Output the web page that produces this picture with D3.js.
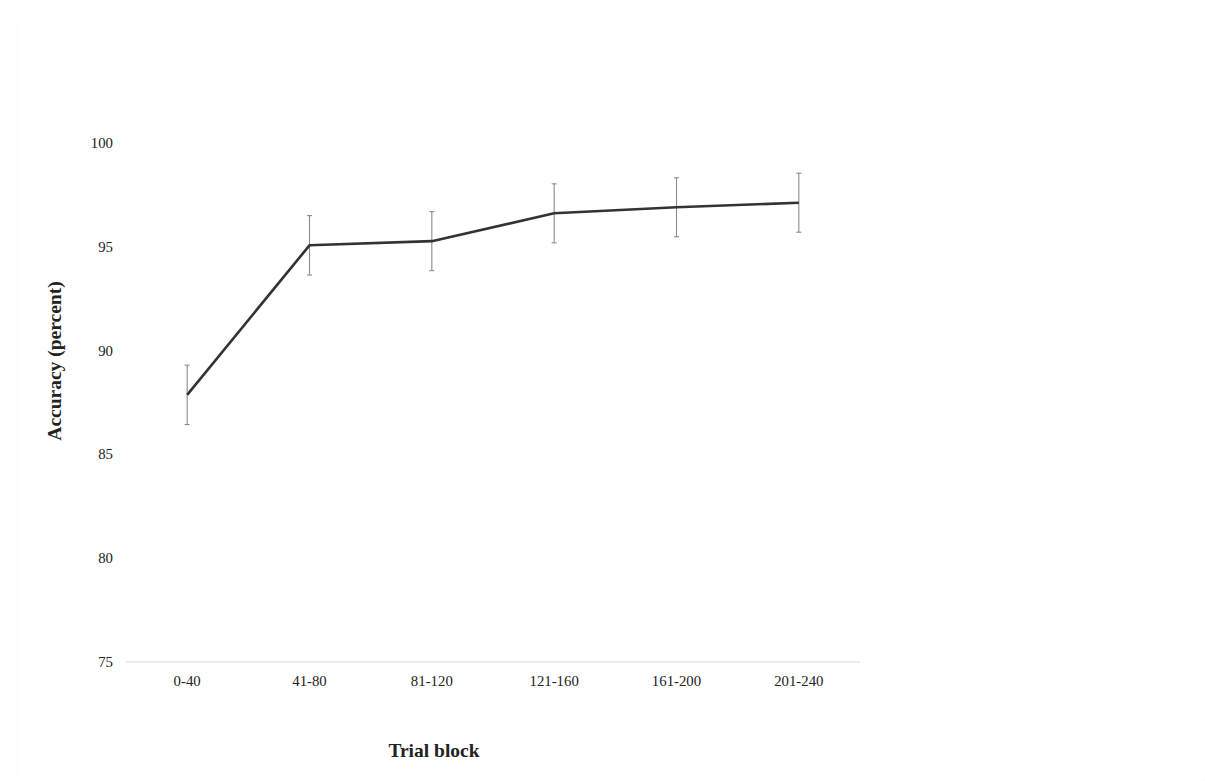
<!DOCTYPE html>
<html>
<head>
<meta charset="utf-8">
<script src="https://cdn.jsdelivr.net/npm/d3@7"></script>
<style>
  html, body { margin: 0; padding: 0; background: #fff; }
  svg { display: block; }
</style>
</head>
<body>
<svg id="chart" width="1205" height="781"></svg>
<script>
const categories = ["0-40", "41-80", "81-120", "121-160", "161-200", "201-240"];
const accuracy = [87.86, 95.06, 95.26, 96.6, 96.89, 97.11];
const errors = [1.43, 1.43, 1.42, 1.42, 1.42, 1.42];
const yTicks = [75, 80, 85, 90, 95, 100];
const xTitle = "Trial block";
const yTitle = "Accuracy (percent)";

const svg = d3.select("#chart");
const font = "'Liberation Serif', 'Times New Roman', serif";

// very faint page frame
svg.append("rect").attr("x", 18).attr("y", 19).attr("width", 1187).attr("height", 762)
  .attr("fill", "none").attr("stroke", "#fbfbfb");

const x = d3.scaleBand().domain(categories).range([126, 860]);
const y = d3.scaleLinear().domain([75, 100]).range([662, 142.7]);

// x axis line
svg.append("line").attr("x1", x.range()[0]).attr("x2", x.range()[1])
  .attr("y1", y(75)).attr("y2", y(75)).attr("stroke", "#d9d9d9").attr("stroke-width", 1.2);

// y tick labels
svg.append("g").selectAll("text").data(yTicks).join("text")
  .attr("x", 113).attr("y", d => y(d)).attr("dy", "0.35em")
  .attr("text-anchor", "end").attr("font-family", font).attr("font-size", 14.8)
  .attr("fill", "#222").text(d => d);

// x tick labels
svg.append("g").selectAll("text").data(categories).join("text")
  .attr("x", d => x(d) + x.bandwidth() / 2).attr("y", y(75) + 19).attr("dy", "0.35em")
  .attr("text-anchor", "middle").attr("font-family", font).attr("font-size", 14.8)
  .attr("fill", "#222").text(d => d);

const cx = (d, i) => x(categories[i]) + x.bandwidth() / 2;

// error bars
const eb = svg.append("g").attr("stroke", "#8a8a8a").attr("stroke-width", 1.1);
accuracy.forEach((v, i) => {
  const px = cx(null, i);
  const top = y(v + errors[i]), bot = y(v - errors[i]);
  eb.append("line").attr("x1", px).attr("x2", px).attr("y1", top).attr("y2", bot);
  eb.append("line").attr("x1", px - 2.5).attr("x2", px + 2.5).attr("y1", top).attr("y2", top);
  eb.append("line").attr("x1", px - 2.5).attr("x2", px + 2.5).attr("y1", bot).attr("y2", bot);
});

// line
const line = d3.line().x((d, i) => cx(d, i)).y(d => y(d));
svg.append("path").datum(accuracy).attr("d", line)
  .attr("fill", "none").attr("stroke", "#333").attr("stroke-width", 2.6)
  .attr("stroke-linejoin", "round");

// titles
svg.append("text").attr("x", 434).attr("y", 757)
  .attr("text-anchor", "middle").attr("font-family", font).attr("font-weight", "bold")
  .attr("font-size", 19.5).attr("fill", "#222").text(xTitle);

svg.append("text").attr("transform", "translate(61,361) rotate(-90)")
  .attr("text-anchor", "middle").attr("font-family", font).attr("font-weight", "bold")
  .attr("font-size", 19.5).attr("fill", "#222").text(yTitle);
</script>
</body>
</html>
